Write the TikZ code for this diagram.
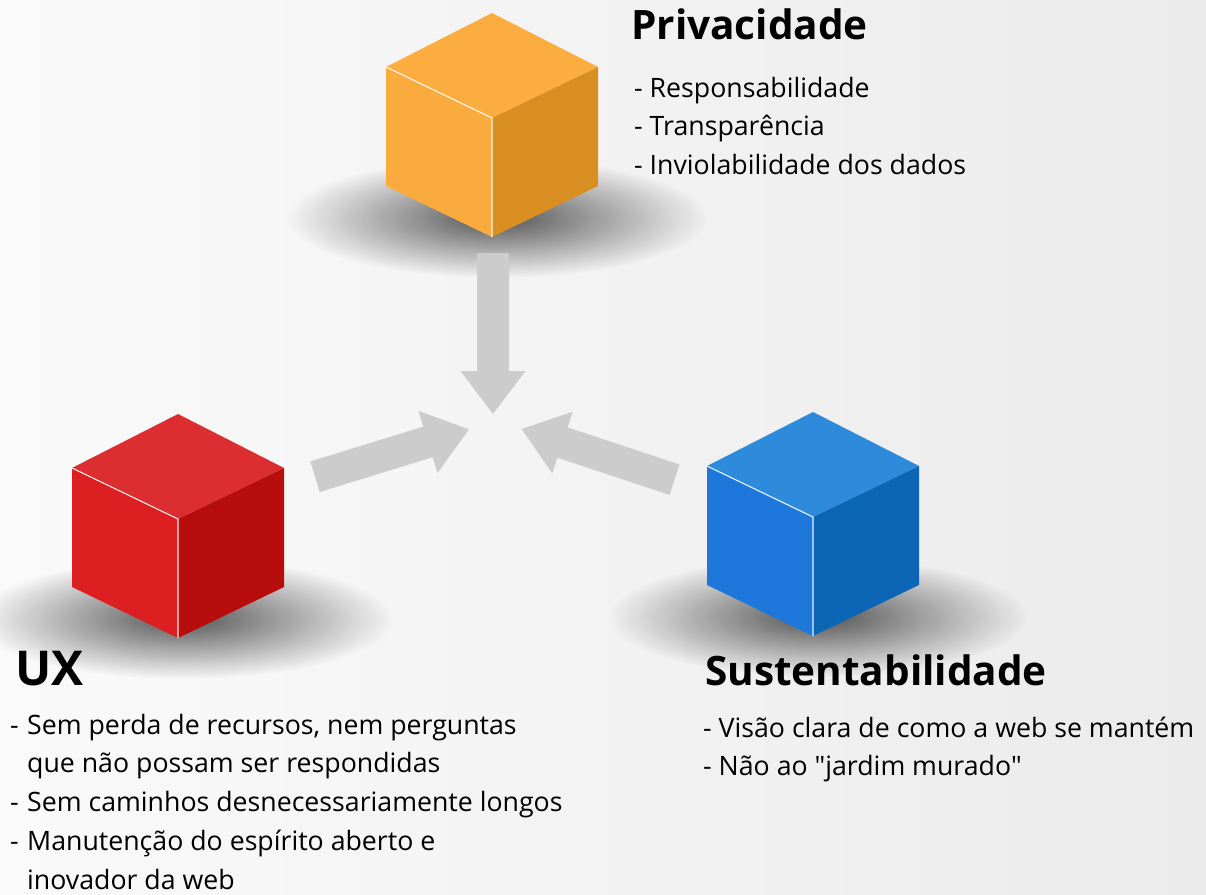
\documentclass[tikz,border=0pt]{standalone}
\usepackage{fontspec}
\setmainfont{Open Sans}
\newfontfamily\plainqfont{Open Sans}
\usetikzlibrary{calc,fadings}
\tikzfading[name=softfade, inner color=transparent!0, outer color=transparent!100]
\definecolor{bgL}{HTML}{FAFAFA}
\definecolor{bgR}{HTML}{EBEBEB}
\definecolor{arrowgray}{HTML}{CCCCCC}
\definecolor{orT}{HTML}{FBAD3F}
\definecolor{orL}{HTML}{FAAB3D}
\definecolor{orR}{HTML}{D98E22}
\definecolor{rdT}{HTML}{DC2E30}
\definecolor{rdL}{HTML}{DC1F20}
\definecolor{rdR}{HTML}{B70D0D}
\definecolor{blT}{HTML}{2E8ADB}
\definecolor{blL}{HTML}{1E78DC}
\definecolor{blR}{HTML}{0D65B5}
\tikzset{
  heading/.style={anchor=base west, inner sep=0pt, font=\fontsize{40.5}{42}\selectfont\bfseries},
  bigheading/.style={anchor=base west, inner sep=0pt, font=\fontsize{48}{50}\selectfont\bfseries},
  listtext/.style={anchor=base west, inner sep=0pt, align=left, font=\fontsize{26.7}{38.8}\selectfont},
  arrowfill/.style={fill=arrowgray},
  edgehl/.style={draw=white, line width=1.1pt, opacity=0.9},
  cubeshadow/.style={fill=black, opacity=0.65, path fading=softfade}
}
\newcommand\drawcube[4]{%
  \fill[cubeshadow] ($(#1)+(5,100)$) ellipse [x radius=210, y radius=60];
  \fill[#2] ($(#1)+(-106,-51)$) -- ($(#1)+(0,-105)$) -- ($(#1)+(106,-51)$) -- (#1) -- cycle;
  \fill[#3] ($(#1)+(-106,-51)$) -- (#1) -- ($(#1)+(0,119)$) -- ($(#1)+(-106,68)$) -- cycle;
  \fill[#4] ($(#1)+(106,-51)$) -- (#1) -- ($(#1)+(0,119)$) -- ($(#1)+(106,68)$) -- cycle;
  \draw[edgehl] ($(#1)+(-106,-51)$) -- (#1) -- ($(#1)+(0,119)$);
}
\newcommand\blockarrow[2]{%
  \coordinate (#2-neck) at ($(#2)!43pt!(#1)$);
  \fill[arrowfill] ($(#1)!16pt!90:(#2)$) -- ($(#2-neck)!16pt!90:(#2)$)
    -- ($(#2-neck)!32.5pt!90:(#2)$) -- (#2) -- ($(#2-neck)!32.5pt!-90:(#2)$)
    -- ($(#2-neck)!16pt!-90:(#2)$) -- ($(#1)!16pt!-90:(#2)$) -- cycle;
}
\newcommand\dq{{\plainqfont"}}
\newcommand\uxitem{\makebox[24pt][l]{\hspace*{7pt}-}}
\begin{document}
\begin{tikzpicture}[x=1pt, y=-1pt]
  \shade[left color=bgL, right color=bgR] (0,0) rectangle (1206,894);
  \useasboundingbox (0,0) rectangle (1206,894);
  % cube anchors (front vertex)
  \coordinate (priv) at (492,118);
  \coordinate (ux) at (178,519);
  \coordinate (sust) at (813,517);
  \drawcube{priv}{orT}{orL}{orR}
  \drawcube{ux}{rdT}{rdL}{rdR}
  \drawcube{sust}{blT}{blL}{blR}
  % arrows
  \coordinate (privTail) at (493,253);
  \coordinate (privTip) at (493,414);
  \coordinate (uxTail) at (315,476.7);
  \coordinate (uxTip) at (469,429.3);
  \coordinate (sustTail) at (674.5,479.7);
  \coordinate (sustTip) at (521.7,429);
  \blockarrow{privTail}{privTip}
  \blockarrow{uxTail}{uxTip}
  \blockarrow{sustTail}{sustTip}
  % texts (list nodes anchored at the baseline of their last line)
  \node[heading] (privTitle) at (631,39) {Privacidade};
  \node[listtext] (privList) at (634,174.6) {- Responsabilidade\\- Transparência\\- Inviolabilidade dos dados};
  \node[bigheading] (uxTitle) at (15,685) {UX};
  \node[listtext] (uxList) at (3,889.2) {\uxitem Sem perda de recursos, nem perguntas\\\hspace*{24pt}que não possam ser respondidas\\\uxitem Sem caminhos desnecessariamente longos\\\uxitem Manutenção do espírito aberto e\\\hspace*{24pt}inovador da web};
  \node[heading] (sustTitle) at (705,685) {Sustentabilidade};
  \node[listtext] (sustList) at (703,775.8) {- Visão clara de como a web se mantém\\- Não ao \dq jardim murado\dq};
\end{tikzpicture}
\end{document}
